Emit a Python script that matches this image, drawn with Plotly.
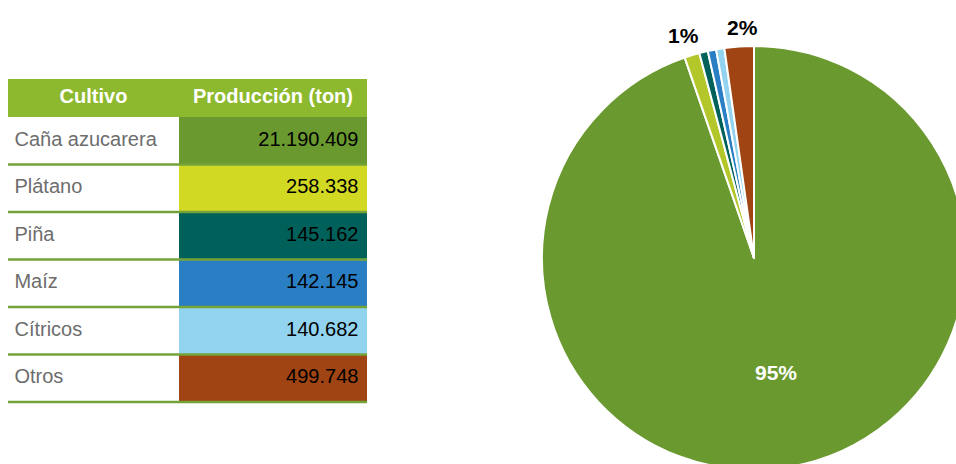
import plotly.graph_objects as go

# datos
cultivos = ["Caña azucarera", "Plátano", "Piña", "Maíz", "Cítricos", "Otros"]
produccion = [21190409, 258338, 145162, 142145, 140682, 499748]
encabezados = ["Cultivo", "Producción (ton)"]

colores_tabla = ["#6a992f", "#d2d923", "#00615a", "#2a7fc4", "#92d3ef", "#a04414"]
colores_pie = ["#6a992f", "#b4c72a", "#00615a", "#2a7fc4", "#92d3ef", "#a04414"]
verde_header = "#8db92e"
verde_linea = "#74a33a"

W, H = 980, 480
FONT = "Liberation Sans Narrow, Arial Narrow, Liberation Sans, Arial"
split = 171 / 359  # ancho de la primera columna

filas = list(range(len(cultivos)))
total = sum(produccion)

fig = go.Figure()

# encabezado de la tabla
fig.add_trace(go.Bar(orientation="h", y=[-0.9], x=[1], base=0, width=0.8,
                     marker=dict(color=verde_header, line_width=0),
                     hoverinfo="skip", showlegend=False))
# celdas de produccion
fig.add_trace(go.Bar(orientation="h", y=filas, x=[1 - split] * len(filas), base=split, width=1,
                     marker=dict(color=colores_tabla, line_width=0),
                     hoverinfo="skip", showlegend=False))
fig.add_trace(go.Scatter(x=[split / 2, (1 + split) / 2], y=[-0.9, -0.9], mode="text",
                         text=encabezados, textposition="middle center",
                         textfont=dict(family=FONT, size=20, color="white", weight="bold"),
                         hoverinfo="skip", showlegend=False))
fig.add_trace(go.Scatter(x=[0.018] * len(filas), y=filas, mode="text", text=cultivos,
                         textposition="middle right",
                         textfont=dict(family=FONT, size=20, color="#6d6d6d"),
                         hoverinfo="skip", showlegend=False))
fig.add_trace(go.Scatter(x=[0.976] * len(filas), y=filas, mode="text",
                         customdata=produccion, texttemplate="%{customdata:,}",
                         textposition="middle left",
                         textfont=dict(family=FONT, size=20, color="black"),
                         hoverinfo="skip", showlegend=False))

for i in filas:
    fig.add_shape(type="line", xref="x", yref="y", x0=0, x1=1, y0=i + 0.5, y1=i + 0.5,
                  line=dict(color=verde_linea, width=2.5))

# grafico circular
fig.add_trace(go.Pie(labels=cultivos, values=produccion, sort=False, direction="clockwise",
                     rotation=0, marker=dict(colors=colores_pie, line=dict(color="white", width=2)),
                     textinfo="none",
                     domain=dict(x=[542 / W, 966 / W], y=[10 / H, 434 / H]),
                     hoverinfo="label+value", showlegend=False))

# etiquetas de porcentaje (Caña, Plátano y Otros)
for idx, (px_x, px_y), color in [(0, (776, 372), "white"), (1, (683, 36), "black"),
                                 (5, (742, 27), "black")]:
    fig.add_annotation(x=px_x / W, y=(H - px_y) / H, xref="paper", yref="paper",
                       xanchor="center", yanchor="middle",
                       text=f"{round(produccion[idx] / total * 100)}%", showarrow=False,
                       font=dict(family=FONT, size=21, color=color, weight="bold"))

fig.update_layout(
    width=W, height=H,
    margin=dict(l=0, r=0, t=0, b=0),
    paper_bgcolor="white", plot_bgcolor="white",
    separators=",.",
    barmode="overlay",
    xaxis=dict(domain=[8 / W, 367 / W], range=[0, 1], visible=False, fixedrange=True),
    yaxis=dict(domain=[(H - 404.4) / H, (H - 79) / H], range=[5.55, -1.3],
               visible=False, fixedrange=True),
)

fig.write_html("out.html", config={"displayModeBar": False},
               post_script="document.body.style.margin='0';document.body.style.overflow='hidden';")
